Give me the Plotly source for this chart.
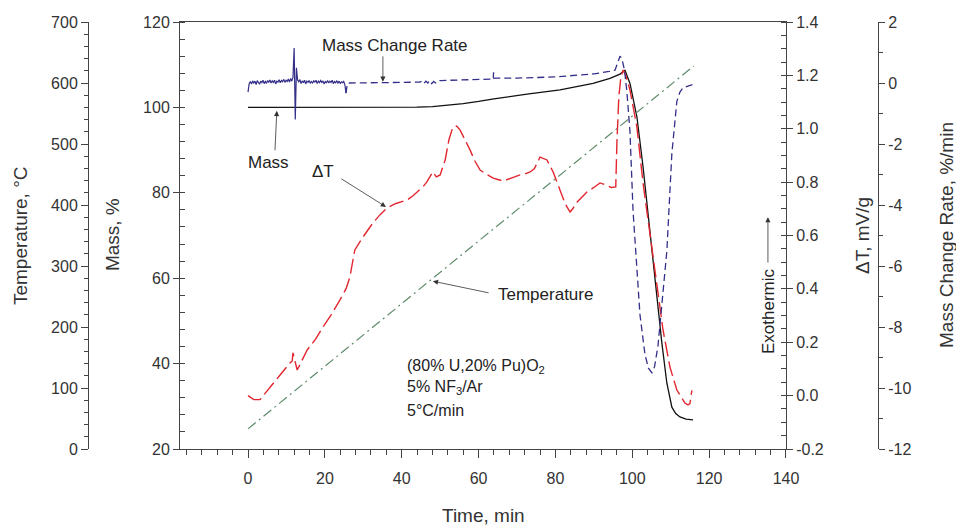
import plotly.graph_objects as go

FONT = "Liberation Sans, Arial, sans-serif"

# ---------------- data ----------------
temp_t = [0, 20, 40, 60, 80, 100, 116]
temp_v = [33, 136, 238, 341, 443, 546, 628]

mass_t = [0, 10, 20, 30, 40, 44, 48, 52, 56, 60, 64, 72.6, 81.2, 89.8, 94.2, 96.8, 98.1,
          99.4, 101.2, 102.8, 104.6, 106.4, 107.7, 109.0, 110.3, 111.3, 112.4, 114, 115.8]
mass_v = [100.0, 100.0, 100.0, 100.0, 100.0, 100.05, 100.2, 100.5, 100.9, 101.4, 102.0,
          103.1, 104.1, 105.6, 106.8, 107.8, 108.7, 105.6, 97.8, 86.1, 70.5, 54.9, 44.8,
          35.4, 29.8, 28.3, 27.5, 27.0, 26.8]

dt_t = [0, 1.5, 3.1, 5, 6.5, 8.5, 10.9, 11.5, 11.7, 12.0, 12.8, 15.4, 17.5, 19.5, 21.5,
        23.9, 25.5, 26.5, 27.8, 29.9, 32.5, 34.5, 36.2, 38.5, 41.4, 43, 45.5, 46.5, 48.1,
        49, 50, 51.3, 52.3, 53.3, 54.3, 55.2, 56.5, 57.8, 59, 60.4, 62, 63.8, 65, 66.4,
        68.5, 70.8, 72, 73.4, 74.5, 76, 77.8, 79.4, 81.2, 82.5, 83.8, 84.5, 85.6, 87,
        88.2, 90, 91.6, 93, 94.5, 95.7, 96.0, 96.5, 97.0, 97.6, 98.3, 99.4, 101.2, 102.8,
        104.6, 106.4, 108.0, 109.8, 111.6, 113.7, 114.5, 115.0, 115.3, 115.5]
dt_v = [0.0, -0.015, -0.015, 0.02, 0.047, 0.08, 0.122, 0.13, 0.16, 0.145, 0.096, 0.171,
        0.21, 0.257, 0.30, 0.358, 0.40, 0.444, 0.546, 0.594, 0.647, 0.68, 0.703, 0.72,
        0.733, 0.75, 0.782, 0.80, 0.838, 0.82, 0.827, 0.883, 0.96, 1.006, 1.01, 0.995,
        0.96, 0.92, 0.88, 0.845, 0.83, 0.815, 0.81, 0.804, 0.815, 0.827, 0.83, 0.838,
        0.85, 0.894, 0.883, 0.838, 0.77, 0.72, 0.688, 0.70, 0.725, 0.745, 0.763, 0.78,
        0.797, 0.79, 0.78, 0.782, 0.95, 1.12, 1.19, 1.22, 1.2, 1.145, 1.006, 0.797, 0.609,
        0.422, 0.246, 0.107, 0.021, -0.028, -0.035, -0.03, 0.01, 0.02]

# mass change rate: noisy start (sampled every 0.3 min from t = 0) ...
mcr_noise_v = [-0.30, -0.02, 0.05, -0.03, 0.07, 0.00, 0.06, -0.05, 0.08, 0.02,
               -0.04, 0.06, 0.01, 0.09, -0.02, 0.05, -0.01, 0.08, 0.03, 0.10,
               0.00, 0.07, 0.02, 0.09, -0.03, 0.06, 0.03, 0.11, 0.01, 0.08,
               0.04, 0.12, 0.02, 0.09, 0.05, 0.13, 0.03, 0.15, 0.06, 0.18,
               1.15, -1.20, 0.50, 0.10, 0.04, 0.11, -0.02, 0.07, 0.01, 0.09,
               -0.03, 0.06, 0.02, 0.08, -0.01, 0.05, 0.00, 0.07, 0.03, 0.09,
               -0.02, 0.06, 0.01, 0.08, 0.02, 0.07, -0.03, 0.05, 0.01, 0.08,
               0.00, 0.06, 0.02, 0.09, -0.02, 0.05, 0.01, 0.07, 0.00, 0.06,
               -0.02, 0.04, 0.01, 0.05, -0.05, -0.33]
mcr_noise_t = [round(0.3 * i, 1) for i in range(len(mcr_noise_v))]
# ... and the rest of the run
mcr_t = [25.5, 25.8, 26.1, 27, 30, 35, 40, 44.8, 45.3, 45.8, 46.3, 46.8, 47.3, 47.8, 48.3,
         48.8, 49.3, 50, 55, 60, 63.8, 63.9, 64.0, 64.2, 70, 80, 90, 94, 95.5, 96.3, 96.8,
         97.3, 98.0, 98.6, 99.4, 100.2, 101.1, 102.0, 103.3, 104.2, 105.1, 105.8, 106.7,
         107.8, 109.0, 110.3, 111.6, 112.4, 113.2, 114.5, 115.8]
mcr_v = [-0.33, -0.05, 0.0, 0.0, 0.01, 0.02, 0.02, 0.03, 0.07, -0.01, 0.06, 0.0, 0.08,
         -0.02, 0.05, 0.0, 0.06, 0.08, 0.1, 0.12, 0.13, 0.35, 0.15, 0.16, 0.16, 0.2, 0.3,
         0.38, 0.42, 0.7, 0.88, 0.8, 0.4, -0.3, -1.6, -4.2, -6.0, -7.6, -8.9, -9.35, -9.5,
         -9.3, -8.6, -7.0, -5.5, -2.3, -0.6, -0.3, -0.16, -0.1, -0.05]

dt_tickvals = [-0.2, 0.0, 0.2, 0.4, 0.6, 0.8, 1.0, 1.2, 1.4]
dt_ticktext = ["-0.2", "0.0", "0.2", "0.4", "0.6", "0.8", "1.0", "1.2", "1.4"]
mcr_tickvals = [-12, -10, -8, -6, -4, -2, 0, 2]
mcr_ticktext = ["-12", "-10", "-8", "-6", "-4", "-2", "0", "2"]

# ---------------- figure ----------------
AX = "#444444"
TXT = "#333333"
MCR_COLOR = "#34308a"
fig = go.Figure()

fig.add_trace(go.Scatter(x=temp_t, y=temp_v, yaxis="y2", mode="lines",
                         line=dict(color="#5f8c6c", width=1.2, dash="10px,4px,2px,4px")))
fig.add_trace(go.Scatter(x=dt_t, y=dt_v, yaxis="y3", mode="lines",
                         line=dict(color="#e2262f", width=1.4, dash="15px,5px")))
fig.add_trace(go.Scatter(x=mass_t, y=mass_v, yaxis="y", mode="lines",
                         line=dict(color="#111111", width=1.3)))
fig.add_trace(go.Scatter(x=mcr_noise_t, y=mcr_noise_v, yaxis="y4", mode="lines",
                         line=dict(color=MCR_COLOR, width=1.2)))
fig.add_trace(go.Scatter(x=mcr_t, y=mcr_v, yaxis="y4", mode="lines",
                         line=dict(color=MCR_COLOR, width=1.3, dash="7px,4px")))

tickfont = dict(family=FONT, size=16, color=TXT)
common = dict(showgrid=False, zeroline=False, showline=True, linecolor=AX, linewidth=1,
              tickcolor=AX, tickfont=tickfont)

fig.update_layout(
    width=956, height=525,
    margin=dict(l=88, r=78, t=22, b=76),
    paper_bgcolor="white", plot_bgcolor="white",
    showlegend=False,
    xaxis=dict(domain=[0.11646, 0.88354], range=[-17.7, 140], tick0=0, dtick=20,
               ticks="outside", ticklen=8, mirror=True, ticklabelstandoff=7,
               minor=dict(dtick=4, tick0=0, ticks="outside", ticklen=5, tickcolor=AX),
               **common),
    yaxis=dict(range=[20, 120], dtick=20, tick0=20, ticks="outside", ticklen=6,
               anchor="x", side="left",
               minor=dict(dtick=4, tick0=20, ticks="inside", ticklen=5, tickcolor=AX),
               **common),
    yaxis2=dict(range=[0, 700], dtick=100, tick0=0, ticks="outside", ticklen=7,
                overlaying="y", anchor="free", position=0, side="left",
                minor=dict(dtick=20, tick0=0, ticks="outside", ticklen=4, tickcolor=AX),
                **common),
    yaxis3=dict(range=[-0.2, 1.4], tickmode="array", tickvals=dt_tickvals,
                ticktext=dt_ticktext, ticks="outside", ticklen=6,
                overlaying="y", anchor="x", side="right",
                minor=dict(tickmode="linear", tick0=-0.2, dtick=0.05, ticks="inside",
                           ticklen=5, tickcolor=AX),
                **common),
    yaxis4=dict(range=[-12, 2], tickmode="array", tickvals=mcr_tickvals,
                ticktext=mcr_ticktext, ticks="outside", ticklen=6,
                overlaying="y", anchor="free", position=1, side="right",
                minor=dict(tickmode="linear", tick0=-12, dtick=1, ticks="outside",
                           ticklen=4, tickcolor=AX),
                **common),
)

ann = []
tf = dict(family=FONT, size=19, color=TXT)
ctr = dict(xanchor="center", yanchor="middle", showarrow=False, xref="paper", yref="paper")
# axis titles
ann.append(dict(text="Temperature, °C", x=-0.0861, y=0.501, textangle=-90, font=tf, **ctr))
ann.append(dict(text="Mass, %", x=0.0304, y=0.501, textangle=-90, font=tf, **ctr))
ann.append(dict(text="ΔT, mV/g", x=0.9797, y=0.501, textangle=-90, font=tf, **ctr))
ann.append(dict(text="Mass Change Rate, %/min", x=1.086, y=0.501, textangle=-90, font=tf,
                **ctr))
ann.append(dict(text="Time, min", x=0.5, y=-0.1546, font=tf, **ctr))

lf = dict(family=FONT, size=17, color="#222222")
# curve labels
ann.append(dict(text="Mass Change Rate", x=38.3, y=114.6, xref="x", yref="y",
                showarrow=False, font=lf))
ann.append(dict(text="Mass", x=5.2, y=87.2, xref="x", yref="y", showarrow=False, font=lf))
ann.append(dict(text="ΔT", x=19.6, y=84.9, xref="x", yref="y", showarrow=False, font=lf))
ann.append(dict(text="Temperature", x=77.3, y=56.1, xref="x", yref="y", showarrow=False,
                font=lf))
ann.append(dict(text="Exothermic", x=135.3, y=52.3, xref="x", yref="y", textangle=-90,
                showarrow=False, font=lf))

arrows = [  # (tip_x, tip_y, tail_x, tail_y) in time / mass units
    (35.1, 106.0, 35.1, 112.3),
    (7.5, 99.2, 7.0, 89.6),
    (35.9, 76.7, 23.9, 83.5),
    (48.1, 59.3, 63.0, 56.5),
    (135.3, 74.3, 135.3, 63.3),
]
for (x, y, axx, ayy) in arrows:
    ann.append(dict(text="", x=x, y=y, ax=axx, ay=ayy, xref="x", yref="y", axref="x",
                    ayref="y", showarrow=True, arrowhead=2, arrowsize=1.3,
                    arrowwidth=0.8, arrowcolor="#333333", standoff=0, startstandoff=0))

cf = dict(family=FONT, size=16, color="#222222")
ann.append(dict(text="(80% U,20% Pu)O<sub>2</sub>", x=40.9, y=39.4, xref="x", yref="y",
                xanchor="left", showarrow=False, font=cf))
ann.append(dict(text="5% NF<sub>3</sub>/Ar", x=40.9, y=34.3, xref="x", yref="y",
                xanchor="left", showarrow=False, font=cf))
ann.append(dict(text="5°C/min", x=40.9, y=29.1, xref="x", yref="y", xanchor="left",
                showarrow=False, font=cf))

fig.update_layout(annotations=ann)
fig.write_html("out.html")
